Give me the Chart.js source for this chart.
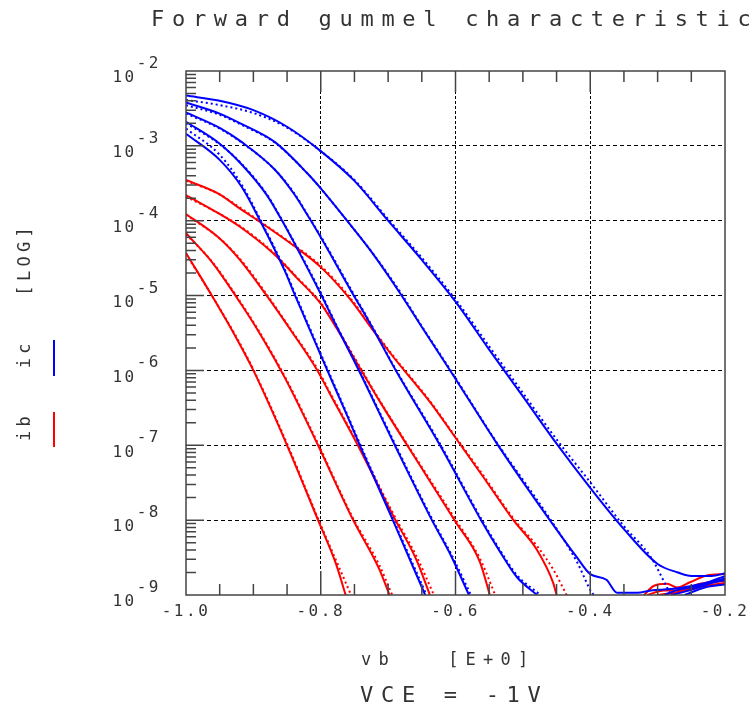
<!DOCTYPE html>
<html lang="en">
<head>
<meta charset="UTF-8">
<title>Forward gummel characteristic</title>
<style>
  body { margin: 0; background: #fff; }
  canvas { display: block; }
</style>
</head>
<body>
<canvas id="gummel" width="752" height="705"></canvas>
<script src="https://cdn.jsdelivr.net/npm/chart.js"></script>
<script>
// Forward gummel, VCE = -1V. vb in volts, ic / ib in amps.
// solid = measured, dotted = simulated

const xTicks = [-1.0, -0.8, -0.6, -0.4, -0.2];
const yTicks = [1e-9, 1e-8, 1e-7, 1e-6, 1e-5, 1e-4, 1e-3, 1e-2];

// ---- ic (blue) ----
const vbIc1 = [-1.00, -0.95, -0.90, -0.85, -0.80, -0.75, -0.70, -0.65, -0.60, -0.55, -0.50, -0.45, -0.40, -0.35, -0.30, -0.27, -0.25, -0.22, -0.20];
const ic1 = [4.7e-3, 4.0e-3, 3.0e-3, 1.8e-3, 8.5e-4, 3.4e-4, 1.0e-4, 3.0e-5, 8.3e-6, 1.9e-6, 4.5e-7, 1.05e-7, 2.7e-8, 7.6e-9, 2.6e-9, 2.0e-9, 1.8e-9, 1.8e-9, 1.95e-9];
const vbIc1Sim = [-1.00, -0.95, -0.90, -0.85, -0.80, -0.75, -0.70, -0.65, -0.60, -0.55, -0.50, -0.45, -0.40, -0.35, -0.31, -0.286, -0.28];
const ic1Sim = [4.1e-3, 3.5e-3, 2.75e-3, 1.75e-3, 8.5e-4, 3.5e-4, 1.05e-4, 3.2e-5, 8.9e-6, 2.1e-6, 5.0e-7, 1.2e-7, 3.2e-8, 8.3e-9, 3.2e-9, 1.26e-9, 1.0e-9];

const vbIc2 = [-1.00, -0.95, -0.917, -0.868, -0.82, -0.80, -0.761, -0.722, -0.683, -0.65, -0.608, -0.539, -0.495, -0.46, -0.42, -0.40, -0.376, -0.36, -0.33, -0.31, -0.28, -0.25, -0.22, -0.20];
const ic2 = [3.8e-3, 2.7e-3, 1.95e-3, 1.12e-3, 4.3e-4, 2.7e-4, 1.0e-4, 3.55e-5, 1.1e-5, 3.8e-6, 1.0e-6, 1.07e-7, 2.8e-8, 1.0e-8, 3.2e-9, 1.9e-9, 1.6e-9, 1.07e-9, 1.07e-9, 1.15e-9, 1.2e-9, 1.32e-9, 1.5e-9, 1.66e-9];
const vbIc2Sim = [-1.00, -0.95, -0.917, -0.868, -0.82, -0.80, -0.761, -0.722, -0.683, -0.65, -0.608, -0.539, -0.495, -0.46, -0.42, -0.40, -0.395];
const ic2Sim = [3.5e-3, 2.6e-3, 1.9e-3, 1.1e-3, 4.3e-4, 2.7e-4, 1.0e-4, 3.6e-5, 1.15e-5, 3.9e-6, 1.03e-6, 1.1e-7, 3.0e-8, 1.05e-8, 2.8e-9, 1.17e-9, 1.0e-9];

const vbIc3 = [-1.00, -0.95, -0.917, -0.868, -0.839, -0.82, -0.80, -0.756, -0.722, -0.69, -0.623, -0.562, -0.534, -0.509, -0.479];
const ic3 = [2.8e-3, 1.74e-3, 1.12e-3, 4.8e-4, 2.24e-4, 1.2e-4, 6.0e-5, 1.2e-5, 3.55e-6, 1.05e-6, 1.0e-7, 1.0e-8, 3.8e-9, 1.74e-9, 1.0e-9];
const vbIc3Sim = [-1.00, -0.95, -0.917, -0.868, -0.839, -0.82, -0.80, -0.756, -0.722, -0.69, -0.623, -0.562, -0.534, -0.509, -0.474];
const ic3Sim = [2.7e-3, 1.7e-3, 1.1e-3, 4.8e-4, 2.3e-4, 1.22e-4, 6.2e-5, 1.25e-5, 3.65e-6, 1.08e-6, 1.05e-7, 1.05e-8, 4.0e-9, 1.85e-9, 1.0e-9];

const vbIc4 = [-1.00, -0.95, -0.917, -0.88, -0.86, -0.83, -0.80, -0.776, -0.745, -0.69, -0.635, -0.607, -0.58];
const ic4 = [2.1e-3, 1.07e-3, 5.6e-4, 2.2e-4, 1.1e-4, 3.5e-5, 1.05e-5, 3.8e-6, 1.07e-6, 1.0e-7, 1.0e-8, 3.4e-9, 1.0e-9];
const vbIc4Sim = [-1.00, -0.95, -0.917, -0.88, -0.86, -0.83, -0.80, -0.776, -0.745, -0.69, -0.635, -0.607, -0.577];
const ic4Sim = [2.0e-3, 1.05e-3, 5.7e-4, 2.25e-4, 1.12e-4, 3.6e-5, 1.1e-5, 3.9e-6, 1.1e-6, 1.05e-7, 1.05e-8, 3.6e-9, 1.0e-9];

const vbIc5 = [-1.00, -0.95, -0.917, -0.89, -0.854, -0.838, -0.82, -0.797, -0.76, -0.74, -0.693, -0.645];
const ic5 = [1.45e-3, 6.5e-4, 2.8e-4, 1.0e-4, 2.2e-5, 1.0e-5, 4.2e-6, 1.38e-6, 2.4e-7, 9.1e-8, 1.0e-8, 1.0e-9];
const vbIc5Sim = [-1.00, -0.95, -0.917, -0.89, -0.854, -0.838, -0.82, -0.797, -0.76, -0.74, -0.693, -0.643];
const ic5Sim = [1.7e-3, 7.6e-4, 3.0e-4, 1.05e-4, 2.3e-5, 1.05e-5, 4.4e-6, 1.45e-6, 2.5e-7, 9.6e-8, 1.05e-8, 1.0e-9];

// noise floor traces near vb = -0.3 .. -0.2
const icTailV1 = [-0.29, -0.27, -0.24, -0.21, -0.20];
const icTail1 = [1.0e-9, 1.17e-9, 1.32e-9, 1.66e-9, 1.78e-9];
const icTailV2 = [-0.28, -0.25, -0.22, -0.20];
const icTail2 = [1.0e-9, 1.17e-9, 1.45e-9, 1.58e-9];
const icTailV3 = [-0.26, -0.23, -0.20];
const icTail3 = [1.0e-9, 1.26e-9, 1.38e-9];

// ---- ib (red) ----
const vbIb1 = [-1.00, -0.952, -0.92, -0.893, -0.841, -0.80, -0.757, -0.722, -0.692, -0.638, -0.60, -0.559, -0.514, -0.479, -0.455, -0.45];
const ib1 = [3.5e-4, 2.3e-4, 1.45e-4, 1.0e-4, 4.7e-5, 2.4e-5, 9.1e-6, 3.4e-6, 1.5e-6, 3.8e-7, 1.26e-7, 3.8e-8, 1.0e-8, 4.0e-9, 1.45e-9, 1.0e-9];
const vbIb1Sim = [-1.00, -0.952, -0.92, -0.893, -0.841, -0.80, -0.757, -0.722, -0.692, -0.638, -0.60, -0.559, -0.514, -0.479, -0.455, -0.435];
const ib1Sim = [3.4e-4, 2.3e-4, 1.5e-4, 1.02e-4, 4.8e-5, 2.5e-5, 9.5e-6, 3.5e-6, 1.55e-6, 3.9e-7, 1.3e-7, 4.0e-8, 1.05e-8, 4.5e-9, 2.2e-9, 1.0e-9];

const vbIb2 = [-1.00, -0.952, -0.92, -0.871, -0.836, -0.80, -0.776, -0.745, -0.712, -0.648, -0.60, -0.564, -0.549];
const ib2 = [2.2e-4, 1.26e-4, 8.3e-5, 3.7e-5, 1.74e-5, 7.8e-6, 3.6e-6, 1.2e-6, 3.8e-7, 4.6e-8, 9.5e-9, 2.8e-9, 1.0e-9];
const vbIb2Sim = [-1.00, -0.952, -0.92, -0.871, -0.836, -0.80, -0.776, -0.745, -0.712, -0.648, -0.60, -0.564, -0.541];
const ib2Sim = [2.1e-4, 1.26e-4, 8.5e-5, 3.8e-5, 1.78e-5, 8.0e-6, 3.7e-6, 1.25e-6, 3.9e-7, 4.8e-8, 1.02e-8, 3.1e-9, 1.0e-9];

const vbIb3 = [-1.00, -0.952, -0.92, -0.881, -0.845, -0.805, -0.787, -0.745, -0.692, -0.658, -0.638];
const ib3 = [1.23e-4, 6.0e-5, 3.0e-5, 1.02e-5, 3.5e-6, 1.0e-6, 5.0e-7, 1.0e-7, 1.12e-8, 2.95e-9, 1.0e-9];
const vbIb3Sim = [-1.00, -0.952, -0.92, -0.881, -0.845, -0.805, -0.787, -0.745, -0.692, -0.658, -0.632];
const ib3Sim = [1.2e-4, 6.0e-5, 3.1e-5, 1.06e-5, 3.6e-6, 1.05e-6, 5.2e-7, 1.05e-7, 1.2e-8, 3.3e-9, 1.0e-9];

const vbIb4 = [-1.00, -0.96, -0.925, -0.893, -0.853, -0.804, -0.753, -0.713, -0.698];
const ib4 = [6.8e-5, 2.7e-5, 9.5e-6, 3.4e-6, 7.9e-7, 1.0e-7, 1.05e-8, 2.2e-9, 1.0e-9];
const vbIb4Sim = [-1.00, -0.96, -0.925, -0.893, -0.853, -0.804, -0.753, -0.713, -0.694];
const ib4Sim = [6.6e-5, 2.75e-5, 9.8e-6, 3.5e-6, 8.2e-7, 1.05e-7, 1.1e-8, 2.5e-9, 1.0e-9];

const vbIb5 = [-1.00, -0.963, -0.928, -0.90, -0.85, -0.804, -0.778, -0.763];
const ib5 = [3.7e-5, 1.05e-5, 3.0e-6, 1.0e-6, 1.0e-7, 1.0e-8, 2.7e-9, 1.0e-9];
const vbIb5Sim = [-1.00, -0.963, -0.928, -0.90, -0.85, -0.804, -0.778, -0.755];
const ib5Sim = [3.6e-5, 1.05e-5, 3.1e-6, 1.03e-6, 1.05e-7, 1.05e-8, 3.0e-9, 1.0e-9];

const ibTailV1 = [-0.321, -0.306, -0.286, -0.271, -0.252, -0.227, -0.20];
const ibTail1 = [9.8e-10, 1.32e-9, 1.41e-9, 1.26e-9, 1.48e-9, 1.82e-9, 1.91e-9];
const ibTailV2 = [-0.315, -0.291, -0.267, -0.237, -0.20];
const ibTail2 = [1.0e-9, 1.15e-9, 1.15e-9, 1.41e-9, 1.55e-9];
const ibTailV3 = [-0.30, -0.275, -0.25, -0.225, -0.20];
const ibTail3 = [1.0e-9, 1.07e-9, 1.2e-9, 1.35e-9, 1.45e-9];

const BLUE = '#0000ff';
const RED = '#ff0000';
const MONO = '"DejaVu Sans Mono", "Liberation Mono", monospace';

function curve(vb, cur, color, sim) {
    return {
        data: vb.map((v, i) => ({ x: v, y: cur[i] })),
        borderColor: color,
        borderWidth: 2,
        borderDash: sim ? [2, 3] : [],
        pointRadius: 0,
        fill: false,
        cubicInterpolationMode: 'monotone'
    };
}

// first dataset is drawn on top, so blue goes first
const datasets = [
    curve(vbIc1, ic1, BLUE), curve(vbIc1Sim, ic1Sim, BLUE, true),
    curve(vbIc2, ic2, BLUE), curve(vbIc2Sim, ic2Sim, BLUE, true),
    curve(vbIc3, ic3, BLUE), curve(vbIc3Sim, ic3Sim, BLUE, true),
    curve(vbIc4, ic4, BLUE), curve(vbIc4Sim, ic4Sim, BLUE, true),
    curve(vbIc5, ic5, BLUE), curve(vbIc5Sim, ic5Sim, BLUE, true),
    curve(icTailV1, icTail1, BLUE), curve(icTailV2, icTail2, BLUE), curve(icTailV3, icTail3, BLUE),
    curve(vbIb1, ib1, RED), curve(vbIb1Sim, ib1Sim, RED, true),
    curve(vbIb2, ib2, RED), curve(vbIb2Sim, ib2Sim, RED, true),
    curve(vbIb3, ib3, RED), curve(vbIb3Sim, ib3Sim, RED, true),
    curve(vbIb4, ib4, RED), curve(vbIb4Sim, ib4Sim, RED, true),
    curve(vbIb5, ib5, RED), curve(vbIb5Sim, ib5Sim, RED, true),
    curve(ibTailV1, ibTail1, RED), curve(ibTailV2, ibTail2, RED), curve(ibTailV3, ibTail3, RED)
];

function spacedText(ctx, text, x, y, size, spacing) {
    ctx.font = size + 'px ' + MONO;
    ctx.letterSpacing = spacing + 'px';
    ctx.fillText(text, x, y);
}

// plotter-style frame: inward minor ticks, box, titles and the side legend
const gummelDecor = {
    id: 'gummelDecor',
    beforeDraw(chart) {
        chart.ctx.letterSpacing = '2.5px';
    },
    afterDatasetsDraw(chart) {
        const { ctx, chartArea: a, scales: { x, y } } = chart;
        ctx.save();
        ctx.strokeStyle = '#444';
        ctx.lineWidth = 1.5;
        ctx.beginPath();
        for (let e = -9; e < -2; e++) {
            for (let k = 2; k <= 9; k++) {
                const py = y.getPixelForValue(k * Math.pow(10, e));
                ctx.moveTo(a.left, py);
                ctx.lineTo(a.left + 10, py);
            }
            if (e > -9) {
                const py = y.getPixelForValue(Math.pow(10, e));
                ctx.moveTo(a.left, py);
                ctx.lineTo(a.left + 18, py);
            }
        }
        for (let i = 1; i < 16; i++) {
            const px = x.getPixelForValue(-1 + i * 0.05);
            const major = i % 4 === 0;
            ctx.moveTo(px, a.bottom);
            ctx.lineTo(px, a.bottom - (major ? 24 : 11));
            ctx.moveTo(px, a.top);
            ctx.lineTo(px, a.top + (major ? 21 : 11));
        }
        ctx.stroke();
        ctx.strokeRect(a.left, a.top, a.right - a.left, a.bottom - a.top);
        ctx.restore();
    },
    afterDraw(chart) {
        const ctx = chart.ctx;
        ctx.save();
        ctx.fillStyle = '#333';
        ctx.textAlign = 'left';
        ctx.textBaseline = 'alphabetic';
        spacedText(ctx, 'Forward gummel characteristic', 151, 26, 22, 7.7);
        spacedText(ctx, 'vb   [E+0]', 361, 665, 17, 7.2);
        spacedText(ctx, 'VCE = -1V', 360, 702, 22, 7.7);

        ctx.save();
        ctx.translate(26, 441);
        ctx.rotate(-Math.PI / 2);
        ctx.textBaseline = 'middle';
        spacedText(ctx, 'ib   ic   [LOG]', 0, 0, 17, 4.3);
        ctx.restore();

        ctx.lineWidth = 2;
        ctx.strokeStyle = RED;
        ctx.beginPath();
        ctx.moveTo(54, 412);
        ctx.lineTo(54, 447);
        ctx.stroke();
        ctx.strokeStyle = BLUE;
        ctx.beginPath();
        ctx.moveTo(54, 340);
        ctx.lineTo(54, 376);
        ctx.stroke();
        ctx.restore();
        ctx.letterSpacing = '0px';
    }
};

new Chart(document.getElementById('gummel'), {
    type: 'line',
    data: { datasets: datasets },
    options: {
        responsive: false,
        animation: false,
        layout: { padding: { top: 71, right: 27, left: 0, bottom: 0 } },
        plugins: {
            legend: { display: false },
            tooltip: { enabled: false },
            title: { display: false }
        },
        scales: {
            x: {
                type: 'linear',
                min: -1.0,
                max: -0.2,
                afterBuildTicks: s => { s.ticks = xTicks.map(v => ({ value: v })); },
                afterFit: s => { s.height = 110; },
                grid: {
                    drawTicks: false,
                    lineWidth: 1,
                    color: c => (c.tick && (c.tick.value <= -0.99 || c.tick.value >= -0.21)) ? 'rgba(0,0,0,0)' : '#000'
                },
                border: { display: false, dash: [3, 2] },
                ticks: {
                    padding: 7,
                    maxRotation: 0,
                    autoSkip: false,
                    color: '#333',
                    font: { family: MONO, size: 16 },
                    callback: v => v.toFixed(1)
                }
            },
            y: {
                type: 'logarithmic',
                min: 1e-9,
                max: 1e-2,
                afterBuildTicks: s => { s.ticks = yTicks.map(v => ({ value: v })); },
                afterFit: s => { s.width = 186; },
                grid: {
                    drawTicks: false,
                    lineWidth: 1,
                    color: c => (c.tick && (c.tick.value <= 1.1e-9 || c.tick.value >= 0.9e-2)) ? 'rgba(0,0,0,0)' : '#000'
                },
                border: { display: false, dash: [4, 3] },
                ticks: {
                    padding: 25,
                    autoSkip: false,
                    color: '#333',
                    font: { family: MONO, size: 16, lineHeight: 0.9 },
                    callback: v => ['  ' + Math.round(Math.log10(v)), '10  ']
                }
            }
        }
    },
    plugins: [gummelDecor]
});
</script>
</body>
</html>
